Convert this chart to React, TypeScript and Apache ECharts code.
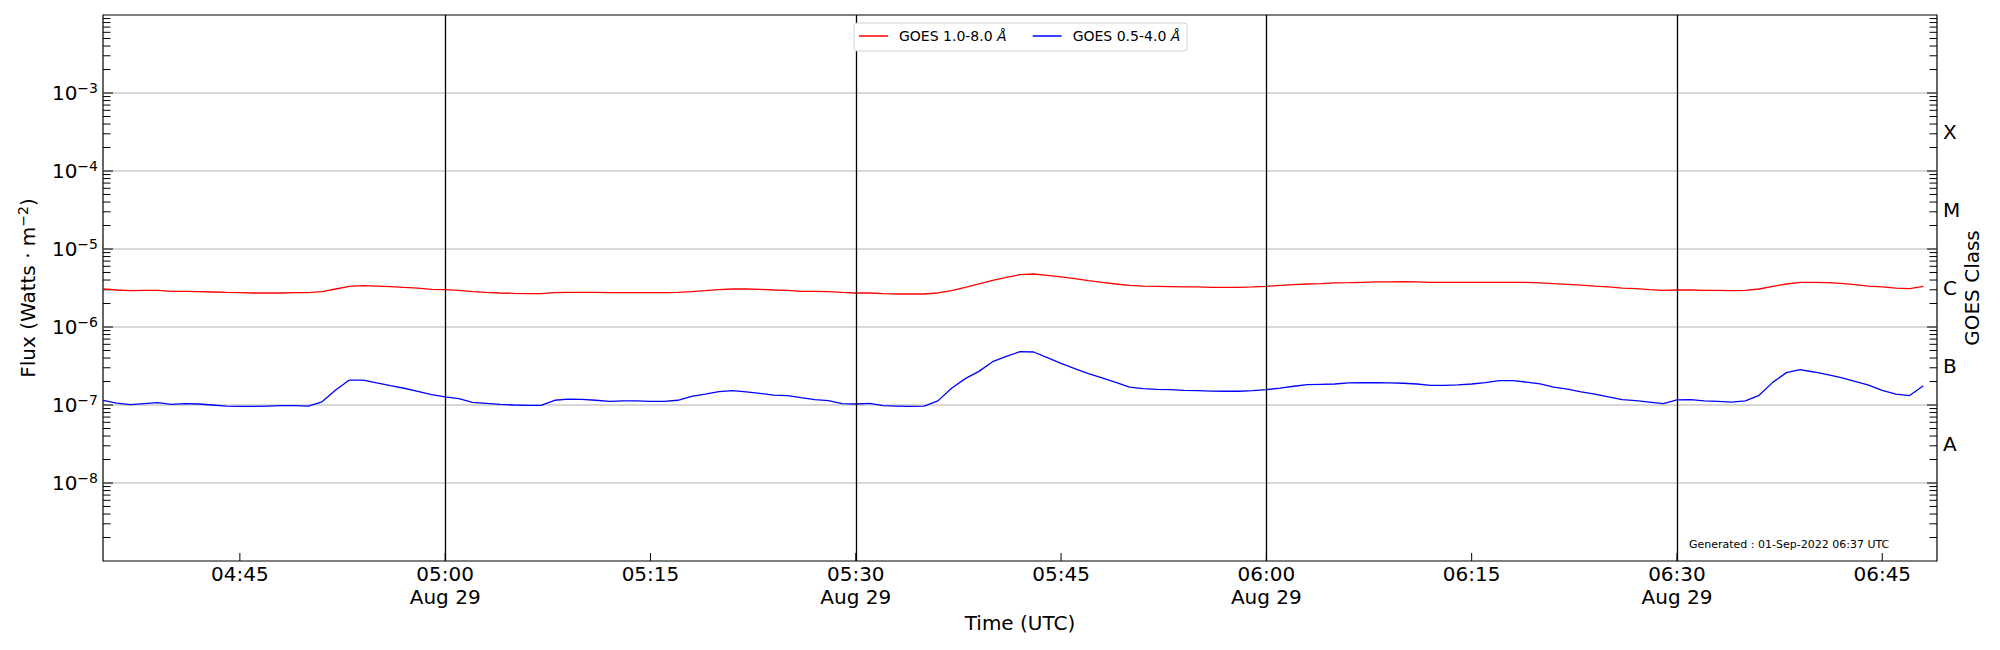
import React, { useEffect, useRef } from "react";
import * as echarts from "echarts";

// ---------- data ----------
// GOES XRS 1-minute samples, 2022-08-29 04:35 .. 06:48 UTC
const SAMPLE_START_UTC = "2022-08-29T04:35:00Z";
const SAMPLE_CADENCE_MIN = 1;
const X_MIN_UTC = "2022-08-29T04:35:00Z";
const X_MAX_UTC = "2022-08-29T06:49:00Z";
const DATE_ISO = "2022-08-29";
const DATE_LABEL = "Aug 29";

// x tick labels (every 15 min); the half-hour ones carry the date line
const X_TICK_TIMES = ["04:45", "05:00", "05:15", "05:30", "05:45", "06:00", "06:15", "06:30", "06:45"];

// 1.0-8.0 Å channel, in units of 1e-6 W/m²
const XRS_LONG_1E6 = [
  3.07, 2.98, 2.92, 2.95, 2.95, 2.87, 2.87, 2.84, 2.81, 2.78,
  2.76, 2.73, 2.73, 2.73, 2.76, 2.76, 2.84, 3.07, 3.32, 3.39,
  3.35, 3.29, 3.22, 3.16, 3.04, 3.01, 2.95, 2.84, 2.78, 2.73,
  2.70, 2.68, 2.68, 2.76, 2.78, 2.78, 2.78, 2.76, 2.76, 2.76,
  2.76, 2.76, 2.78, 2.84, 2.92, 3.01, 3.07, 3.07, 3.04, 2.98,
  2.95, 2.87, 2.87, 2.84, 2.78, 2.73, 2.73, 2.68, 2.65, 2.65,
  2.65, 2.73, 2.92, 3.22, 3.56, 3.97, 4.33, 4.69, 4.78, 4.59,
  4.38, 4.17, 3.93, 3.74, 3.56, 3.42, 3.35, 3.32, 3.29, 3.26,
  3.26, 3.22, 3.22, 3.22, 3.26, 3.32, 3.42, 3.49, 3.56, 3.59,
  3.67, 3.70, 3.74, 3.78, 3.78, 3.81, 3.78, 3.74, 3.74, 3.74,
  3.74, 3.74, 3.74, 3.74, 3.74, 3.67, 3.59, 3.52, 3.45, 3.35,
  3.26, 3.16, 3.10, 3.01, 2.95, 2.98, 2.98, 2.95, 2.95, 2.92,
  2.95, 3.07, 3.32, 3.56, 3.74, 3.74, 3.70, 3.63, 3.49, 3.35,
  3.26, 3.16, 3.10, 3.32,
];

// 0.5-4.0 Å channel, in units of 1e-7 W/m²
const XRS_SHORT_1E7 = [
  1.15, 1.06, 1.01, 1.04, 1.07, 1.02, 1.04, 1.03, 1.00, 0.97,
  0.96, 0.96, 0.97, 0.98, 0.98, 0.97, 1.10, 1.56, 2.09, 2.09,
  1.92, 1.77, 1.64, 1.50, 1.36, 1.27, 1.21, 1.08, 1.05, 1.02,
  1.00, 0.99, 0.99, 1.15, 1.19, 1.18, 1.15, 1.11, 1.13, 1.13,
  1.11, 1.11, 1.15, 1.29, 1.38, 1.48, 1.53, 1.47, 1.41, 1.34,
  1.32, 1.24, 1.17, 1.14, 1.04, 1.03, 1.05, 0.98, 0.97, 0.96,
  0.97, 1.13, 1.64, 2.18, 2.70, 3.59, 4.21, 4.83, 4.78, 4.04,
  3.42, 2.92, 2.52, 2.22, 1.95, 1.70, 1.62, 1.59, 1.57, 1.54,
  1.53, 1.51, 1.50, 1.50, 1.53, 1.57, 1.65, 1.74, 1.82, 1.84,
  1.86, 1.92, 1.93, 1.93, 1.92, 1.90, 1.86, 1.79, 1.79, 1.81,
  1.86, 1.93, 2.05, 2.05, 1.97, 1.86, 1.70, 1.60, 1.47, 1.38,
  1.27, 1.17, 1.14, 1.09, 1.04, 1.16, 1.17, 1.13, 1.11, 1.09,
  1.13, 1.33, 1.95, 2.60, 2.84, 2.65, 2.45, 2.24, 2.01, 1.80,
  1.54, 1.38, 1.32, 1.77,
];

const SERIES_NAMES = ["GOES 1.0-8.0 Å", "GOES 0.5-4.0 Å"];
const SERIES_COLORS = ["#ff0000", "#0000ff"];

const VLINE_TIMES = ["05:00", "05:30", "06:00", "06:30"];

const Y_MIN_EXP = -9;
const Y_MAX_EXP = -2;
const Y_LABEL_EXPS = [-8, -7, -6, -5, -4, -3];
const CLASS_LABELS = ["A", "B", "C", "M", "X"];
const CLASS_CENTER_EXPS = [-7.5, -6.5, -5.5, -4.5, -3.5];

const GENERATED_TEXT = "Generated : 01-Sep-2022 06:37 UTC";

const FONT = "DejaVu Sans";

const toUtc = (hhmm: string) => Date.parse(`${DATE_ISO}T${hhmm}:00Z`);

export default function App() {
  const ref = useRef<HTMLDivElement>(null);

  useEffect(() => {
    document.body.style.margin = "0";
    if (!ref.current) return;
    const chart = echarts.init(ref.current, undefined, { renderer: "svg" });

    const t0 = Date.parse(SAMPLE_START_UTC);
    const xMin = Date.parse(X_MIN_UTC);
    const xMax = Date.parse(X_MAX_UTC);
    const step = SAMPLE_CADENCE_MIN * 60 * 1000;
    const yMin = Math.pow(10, Y_MIN_EXP);

    const longData = XRS_LONG_1E6.map((v, i) => [t0 + i * step, v * 1e-6]);
    const shortData = XRS_SHORT_1E7.map((v, i) => [t0 + i * step, v * 1e-7]);

    // y tick marks (log ticks): 1..9 x 10^e
    const yTickData: number[][] = [];
    for (let e = Y_MIN_EXP; e < Y_MAX_EXP; e++) {
      for (let k = 1; k <= 9; k++) {
        if (e === Y_MIN_EXP && k === 1) continue;
        yTickData.push([xMin, k * Math.pow(10, e), k === 1 ? 1 : 0, e]);
      }
    }

    const xTickData = X_TICK_TIMES.map((t) => [toUtc(t), yMin]);

    const fmtTime = (v: number) => {
      const d = new Date(v);
      const hh = String(d.getUTCHours()).padStart(2, "0");
      const mm = String(d.getUTCMinutes()).padStart(2, "0");
      return d.getUTCMinutes() % 30 === 0 ? `${hh}:${mm}\n${DATE_LABEL}` : `${hh}:${mm}`;
    };

    const option: any = {
      animation: false,
      useUTC: true,
      textStyle: { fontFamily: FONT },
      grid: {
        left: 103,
        right: 63,
        top: 15,
        bottom: 89,
        show: true,
        borderColor: "#000",
        borderWidth: 1.2,
        backgroundColor: "transparent",
        containLabel: false,
        outerBoundsMode: "none",
      },
      legend: {
        data: SERIES_NAMES,
        left: 854,
        top: 23,
        z: 8,
        orient: "horizontal",
        icon: "rect",
        itemWidth: 29,
        itemHeight: 1.5,
        itemGap: 26,
        padding: [6, 0, 6, 5],
        backgroundColor: "transparent",
        borderWidth: 0,
        selectedMode: false,
        formatter: (name: string) => name.replace("Å", "{i|Å}"),
        textStyle: {
          fontFamily: FONT,
          fontSize: 14,
          color: "#000",
          padding: [0, 0, 0, 6],
          rich: {
            i: { fontFamily: FONT, fontSize: 14, fontStyle: "italic", color: "#000" },
          },
        },
      },
      xAxis: {
        type: "time",
        min: xMin,
        max: xMax,
        axisLine: { show: false },
        axisTick: { show: false },
        splitLine: { show: false },
        axisLabel: { show: false },
        name: "Time (UTC)",
        nameLocation: "middle",
        nameGap: 52,
        nameMoveOverlap: false,
        nameTextStyle: { fontFamily: FONT, fontSize: 20, color: "#000" },
      },
      yAxis: [
        {
          type: "log",
          logBase: 10,
          min: yMin,
          max: Math.pow(10, Y_MAX_EXP),
          interval: 1,
          splitNumber: Y_MAX_EXP - Y_MIN_EXP,
          position: "left",
          axisLine: { show: false },
          axisTick: { show: false },
          splitLine: { show: false },
          axisLabel: {
            margin: 5,
            color: "#000",
            formatter: (v: number) => {
              const e = Math.round(Math.log10(v));
              if (!Y_LABEL_EXPS.includes(e)) return "";
              return `{b|10}{s|−${Math.abs(e)}}`;
            },
            rich: {
              b: { fontFamily: FONT, fontSize: 20, color: "#000", lineHeight: 24 },
              s: { fontFamily: FONT, fontSize: 14, color: "#000", lineHeight: 14, verticalAlign: "top" },
            },
          },
          name: "{a|Flux (Watts · m}{s|−2}{a|)}",
          nameLocation: "middle",
          nameRotate: 90,
          nameGap: 63,
          nameMoveOverlap: false,
          nameTextStyle: {
            color: "#000",
            rich: {
              a: { fontFamily: FONT, fontSize: 20, color: "#000", lineHeight: 24 },
              s: { fontFamily: FONT, fontSize: 14, color: "#000", lineHeight: 14, verticalAlign: "top" },
            },
          },
        },
        {
          type: "value",
          min: Y_MIN_EXP,
          max: Y_MAX_EXP,
          interval: 0.5,
          position: "right",
          axisLine: { show: false },
          axisTick: { show: false },
          splitLine: { show: false },
          axisLabel: {
            margin: 6,
            fontFamily: FONT,
            fontSize: 20,
            color: "#000",
            formatter: (v: number) => {
              const idx = CLASS_CENTER_EXPS.findIndex((c) => Math.abs(c - v) < 1e-6);
              return idx >= 0 ? CLASS_LABELS[idx] : "";
            },
          },
          name: "GOES Class",
          nameLocation: "middle",
          nameRotate: 90,
          nameGap: 25,
          nameMoveOverlap: false,
          nameTextStyle: { fontFamily: FONT, fontSize: 20, color: "#000" },
        },
      ],
      series: [
        {
          type: "custom",
          name: "yticks",
          xAxisIndex: 0,
          yAxisIndex: 0,
          silent: true,
          clip: false,
          z: 1,
          encode: { x: 0, y: 1 },
          data: yTickData,
          renderItem: (params: any, api: any) => {
            const cs = params.coordSys;
            const major = api.value(2) === 1;
            const exp = api.value(3);
            const y = api.coord([api.value(0), api.value(1)])[1];
            const len = major ? 10 : 7.5;
            const children: any[] = [];
            if (major && Y_LABEL_EXPS.includes(exp)) {
              children.push({
                type: "line",
                shape: { x1: cs.x, y1: y, x2: cs.x + cs.width, y2: y },
                style: { stroke: "#b0b0b0", lineWidth: 1 },
              });
            }
            children.push({
              type: "line",
              shape: { x1: cs.x, y1: y, x2: cs.x + len, y2: y },
              style: { stroke: "#000", lineWidth: 1 },
            });
            children.push({
              type: "line",
              shape: { x1: cs.x + cs.width - len, y1: y, x2: cs.x + cs.width, y2: y },
              style: { stroke: "#000", lineWidth: 1 },
            });
            return { type: "group", children };
          },
        },
        {
          type: "custom",
          name: "xticks",
          xAxisIndex: 0,
          yAxisIndex: 0,
          silent: true,
          clip: false,
          z: 4,
          encode: { x: 0, y: 1 },
          data: xTickData,
          renderItem: (params: any, api: any) => {
            const cs = params.coordSys;
            const t = api.value(0);
            const x = api.coord([t, api.value(1)])[0];
            const bottom = cs.y + cs.height;
            return {
              type: "group",
              children: [
                {
                  type: "line",
                  shape: { x1: x, y1: bottom, x2: x, y2: bottom - 8 },
                  style: { stroke: "#000", lineWidth: 1 },
                },
                {
                  type: "text",
                  x,
                  y: bottom + 1,
                  style: {
                    text: fmtTime(t),
                    align: "center",
                    verticalAlign: "top",
                    fontFamily: FONT,
                    fontSize: 20,
                    lineHeight: 23,
                    fill: "#000",
                  },
                },
              ],
            };
          },
        },
        {
          type: "line",
          name: SERIES_NAMES[0],
          xAxisIndex: 0,
          yAxisIndex: 0,
          data: longData,
          showSymbol: false,
          symbol: "none",
          z: 3,
          color: SERIES_COLORS[0],
          lineStyle: { color: SERIES_COLORS[0], width: 1.3 },
          markLine: {
            silent: true,
            symbol: "none",
            label: { show: false },
            lineStyle: { color: "#000", width: 1.3, type: "solid" },
            data: VLINE_TIMES.map((t) => ({ xAxis: toUtc(t) })),
          },
        },
        {
          type: "line",
          name: SERIES_NAMES[1],
          xAxisIndex: 0,
          yAxisIndex: 0,
          data: shortData,
          showSymbol: false,
          symbol: "none",
          z: 3,
          color: SERIES_COLORS[1],
          lineStyle: { color: SERIES_COLORS[1], width: 1.3 },
        },
      ],
      graphic: [
        {
          // legend frame
          type: "rect",
          z: 7,
          silent: true,
          shape: { x: 854, y: 23, width: 333, height: 28, r: 3 },
          style: { fill: "#ffffff", stroke: "#d0d0d0", lineWidth: 1 },
        },
        {
          type: "text",
          left: 1689,
          top: 539,
          silent: true,
          style: { text: GENERATED_TEXT, fontFamily: FONT, fontSize: 11, fill: "#000" },
        },
      ],
    };

    chart.setOption(option);
    return () => chart.dispose();
  }, []);

  return <div ref={ref} style={{ width: 2000, height: 650 }} />;
}
